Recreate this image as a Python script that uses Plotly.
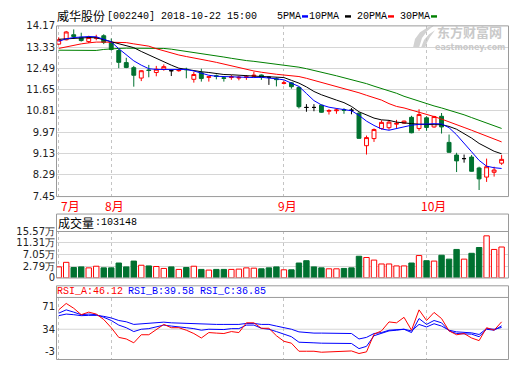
import plotly.graph_objects as go

W, H = 520, 365

stock_name = "威华股份"
stock_code = "002240"
timestamp = "2018-10-22 15:00"

dates = [
    "2018-07-23", "2018-07-24", "2018-07-25", "2018-07-26", "2018-07-27", "2018-07-30", "2018-07-31",
    "2018-08-01", "2018-08-02", "2018-08-03", "2018-08-06", "2018-08-07", "2018-08-08", "2018-08-09",
    "2018-08-10", "2018-08-13", "2018-08-14", "2018-08-15", "2018-08-16", "2018-08-17", "2018-08-20",
    "2018-08-21", "2018-08-22", "2018-08-23", "2018-08-24", "2018-08-27", "2018-08-28", "2018-08-29",
    "2018-08-30", "2018-08-31",
    "2018-09-03", "2018-09-04", "2018-09-05", "2018-09-06", "2018-09-07", "2018-09-10", "2018-09-11",
    "2018-09-12", "2018-09-13", "2018-09-14", "2018-09-17", "2018-09-18", "2018-09-19", "2018-09-20",
    "2018-09-21", "2018-09-25", "2018-09-26", "2018-09-27", "2018-09-28",
    "2018-10-08", "2018-10-09", "2018-10-10", "2018-10-11", "2018-10-12", "2018-10-15", "2018-10-16",
    "2018-10-17", "2018-10-18", "2018-10-19", "2018-10-22",
]

opens = [13.45, 13.62, 13.82, 13.72, 13.55, 13.68, 13.78, 13.52, 13.20, 12.72,
         12.52, 12.11, 12.43, 12.33, 12.46, 12.40, 12.40, 12.46, 12.06, 12.32,
         12.14, 12.20, 12.12, 12.13, 12.11, 12.13, 12.18, 12.23, 12.14, 12.08,
         11.90, 11.92, 11.74, 10.95, 10.95, 11.04, 10.80, 10.82, 10.86, 10.84,
         10.72, 9.44, 9.72, 10.12, 10.15, 10.29, 10.33, 10.56, 10.12, 10.54,
         10.18, 10.60, 9.57, 9.07, 8.93, 8.99, 8.56, 8.20, 8.39, 8.75]
highs = [13.72, 13.97, 14.03, 13.90, 13.78, 13.82, 13.84, 13.67, 13.26, 12.91,
         12.59, 12.42, 12.63, 12.59, 12.65, 12.43, 12.48, 12.52, 12.36, 12.48,
         12.17, 12.25, 12.19, 12.23, 12.19, 12.23, 12.36, 12.25, 12.17, 12.13,
         12.00, 11.95, 11.78, 11.08, 11.08, 11.06, 10.88, 10.92, 10.92, 10.93,
         10.76, 9.84, 10.12, 10.44, 10.45, 10.46, 10.43, 10.62, 10.88, 10.60,
         10.62, 10.73, 9.88, 9.16, 9.09, 9.07, 8.61, 8.93, 8.61, 9.07]
lows = [13.42, 13.60, 13.67, 13.55, 13.49, 13.60, 13.45, 13.20, 12.50, 12.50,
        11.77, 11.99, 12.14, 12.18, 12.40, 12.19, 12.36, 12.10, 11.93, 11.97,
        11.97, 12.06, 11.97, 12.04, 12.02, 12.04, 12.15, 12.04, 11.84, 11.78,
        11.86, 11.69, 10.91, 10.78, 10.80, 10.74, 10.67, 10.70, 10.70, 10.68,
        9.72, 9.09, 9.59, 10.08, 10.07, 10.14, 10.30, 9.93, 10.03, 10.03,
        10.15, 9.92, 9.16, 8.40, 8.77, 8.42, 7.69, 8.01, 8.22, 8.68]
closes = [13.62, 13.93, 13.75, 13.59, 13.71, 13.70, 13.52, 13.24, 12.73, 12.53,
          12.22, 12.40, 12.41, 12.46, 12.56, 12.40, 12.42, 12.44, 12.25, 12.09,
          12.16, 12.18, 12.10, 12.16, 12.14, 12.16, 12.22, 12.14, 12.14, 12.05,
          11.92, 11.77, 10.98, 10.95, 10.95, 10.76, 10.83, 10.85, 10.84, 10.84,
          9.73, 9.76, 10.08, 10.36, 10.37, 10.32, 10.41, 9.95, 10.67, 10.16,
          10.59, 10.18, 9.18, 8.84, 8.93, 8.43, 8.13, 8.61, 8.48, 8.90]

# volume in 万手
volumes = [3.67, 5.19, 3.47, 3.67, 3.34, 3.89, 3.34, 3.34, 4.96, 3.67,
           5.61, 4.22, 3.99, 3.80, 3.15, 3.67, 2.82, 3.47, 3.89, 2.82,
           2.60, 2.82, 2.82, 2.82, 2.92, 3.34, 3.24, 3.02, 3.34, 3.67,
           2.69, 2.69, 4.96, 5.74, 3.67, 3.34, 3.02, 3.02, 3.15, 3.34,
           7.23, 6.81, 5.94, 4.64, 4.64, 3.99, 3.99, 4.96, 7.46, 5.74,
           5.61, 7.56, 6.26, 9.50, 6.26, 8.21, 10.15, 14.05, 9.50, 10.3148]

ma5 = [13.56, 13.66, 13.71, 13.74, 13.75, 13.74, 13.65, 13.54, 13.27, 13.02,
       12.79, 12.62, 12.48, 12.45, 12.45, 12.47, 12.47, 12.45, 12.39, 12.29,
       12.22, 12.18, 12.17, 12.15, 12.13, 12.13, 12.13, 12.14, 12.12, 12.08,
       12.04, 11.91, 11.78, 11.50, 11.22, 11.05, 10.96, 10.91, 10.87, 10.82,
       10.64, 10.41, 10.24, 10.10, 10.05, 10.12, 10.20, 10.25, 10.28, 10.30,
       10.31, 10.30, 10.15, 9.87, 9.55, 9.20, 8.86, 8.63, 8.57, 8.54]
ma10 = [13.64, 13.66, 13.69, 13.70, 13.71, 13.70, 13.62, 13.56, 13.48, 13.39,
        13.31, 13.16, 13.02, 12.87, 12.75, 12.62, 12.50, 12.45, 12.41, 12.36,
        12.33, 12.29, 12.25, 12.24, 12.22, 12.19, 12.18, 12.17, 12.16, 12.14,
        12.13, 12.02, 11.91, 11.76, 11.58, 11.45, 11.33, 11.24, 11.14, 10.99,
        10.78, 10.64, 10.53, 10.46, 10.44, 10.37, 10.33, 10.31, 10.29, 10.27,
        10.27, 10.27, 10.20, 10.09, 9.93, 9.74, 9.53, 9.36, 9.22, 9.12]
ma20 = [13.28, 13.35, 13.41, 13.46, 13.50, 13.53, 13.53, 13.52, 13.52, 13.51,
        13.46, 13.41, 13.37, 13.27, 13.18, 13.08, 13.02, 12.96, 12.91, 12.85,
        12.79, 12.73, 12.66, 12.58, 12.50, 12.43, 12.39, 12.34, 12.29, 12.26,
        12.23, 12.20, 12.17, 12.10, 12.02, 11.95, 11.85, 11.77, 11.70, 11.62,
        11.53, 11.43, 11.33, 11.24, 11.10, 10.99, 10.93, 10.85, 10.78, 10.70,
        10.59, 10.49, 10.37, 10.27, 10.16, 10.05, 9.93, 9.82, 9.70, 9.59]
ma30 = [13.21, 13.21, 13.20, 13.20, 13.19, 13.20, 13.24, 13.27, 13.28, 13.29,
        13.29, 13.29, 13.29, 13.28, 13.28, 13.25, 13.21, 13.16, 13.12, 13.08,
        13.04, 12.99, 12.94, 12.89, 12.84, 12.80, 12.77, 12.73, 12.70, 12.66,
        12.64, 12.60, 12.54, 12.48, 12.42, 12.35, 12.27, 12.20, 12.12, 12.04,
        11.99, 11.89, 11.79, 11.70, 11.60, 11.51, 11.39, 11.29, 11.19, 11.10,
        11.01, 10.93, 10.85, 10.76, 10.66, 10.55, 10.44, 10.34, 10.22, 10.12]

rsi_a = [65.7, 76.2, 68.3, 57.8, 62.0, 58.8, 49.9, 36.5, 20.7, 18.1,
         11.8, 25.0, 25.0, 34.0, 41.9, 36.5, 36.5, 32.4, 27.0, 19.7,
         28.6, 27.7, 27.0, 30.2, 28.6, 44.5, 44.5, 35.6, 35.6, 23.4,
         14.3, 11.2, -2.0, -2.0, -2.0, -3.6, -3.0, -1.5, -1.5, -1.5,
         -5.7, -3.0, 26.0, 31.3, 46.0, 44.5, 53.5, 32.4, 65.7, 48.3,
         61.5, 51.5, 31.3, 25.0, 27.0, 19.7, 15.4, 36.5, 32.4, 46.12]
rsi_b = [60.3, 65.7, 62.0, 57.8, 58.8, 57.8, 53.5, 48.3, 40.8, 36.5,
         30.2, 34.0, 35.0, 38.3, 40.8, 39.2, 38.3, 36.5, 35.0, 32.4,
         34.0, 34.0, 33.5, 35.0, 35.0, 40.8, 40.8, 35.6, 34.0, 30.2,
         26.0, 21.8, 12.8, 11.8, 11.8, 11.2, 11.2, 11.2, 11.2, 10.7,
         2.3, 6.0, 23.4, 27.0, 31.3, 32.4, 34.0, 28.6, 51.5, 41.9,
         48.3, 44.5, 31.3, 27.0, 26.0, 26.0, 21.8, 34.0, 32.4, 39.58]
rsi_c = [56.2, 58.8, 57.8, 56.2, 56.7, 56.7, 55.1, 52.5, 48.3, 46.2,
         41.9, 43.0, 43.0, 44.5, 45.6, 44.5, 44.0, 43.5, 43.0, 41.9,
         41.9, 41.9, 41.9, 41.9, 41.9, 43.5, 43.5, 41.9, 41.9, 39.2,
         36.5, 34.0, 29.7, 28.6, 27.7, 27.7, 27.7, 27.7, 27.7, 27.0,
         18.1, 20.7, 27.0, 28.6, 32.4, 33.5, 34.0, 31.3, 41.9, 37.7,
         43.0, 39.2, 32.4, 29.7, 28.6, 28.1, 25.4, 35.0, 34.0, 36.85]

price_ticks = [14.17, 13.33, 12.49, 11.65, 10.81, 9.97, 9.13, 8.29, 7.45]
volume_tick_labels = ["15.57万", "11.31万", "7.05万", "2.79万", "0"]
volume_max = 15.57
rsi_ticks = [71, 34, -3]
ma_names = ["5PMA", "10PMA", "20PMA", "30PMA"]

RED = "#ff0000"
GREEN = "#007130"
BLUE = "#0000ff"
MA_COLORS = ["#0000ff", "#000000", "#ff0000", "#008000"]
FRAME = "#9a9a9a"
GRID = "#d6d6d6"
MONO = "Liberation Mono, DejaVu Sans Mono, monospace"
CJK = "Noto Sans CJK SC"
TICKF = "DejaVu Sans"

n = len(dates)
xs = list(range(n))


def fx(p):
    return p / W


def fy(p):
    return 1 - p / H


direction = []
for i in range(n):
    if closes[i] > opens[i]:
        direction.append("up")
    elif closes[i] < opens[i]:
        direction.append("down")
    else:
        direction.append("flat")

fig = go.Figure()

styles = {"up": (RED, "#ffffff"), "down": (GREEN, GREEN), "flat": ("#000000", "#000000")}
for kind, (lc, fc) in styles.items():
    idx = [i for i in range(n) if direction[i] == kind]
    fig.add_trace(go.Candlestick(
        x=[xs[i] for i in idx],
        open=[opens[i] for i in idx], high=[highs[i] for i in idx],
        low=[lows[i] for i in idx], close=[closes[i] for i in idx],
        increasing=dict(line=dict(color=lc, width=1), fillcolor=fc),
        decreasing=dict(line=dict(color=lc, width=1), fillcolor=fc),
        whiskerwidth=0, xaxis="x", yaxis="y", hoverinfo="skip",
    ))

for vals, col in zip([ma30, ma20, ma10, ma5], MA_COLORS[::-1]):
    fig.add_trace(go.Scatter(x=xs, y=vals, mode="lines", line=dict(color=col, width=1),
                             xaxis="x", yaxis="y", hoverinfo="skip"))

vol_line, vol_fill = [], []
for i in range(n):
    if direction[i] == "up" or (direction[i] == "flat" and i > 0 and closes[i] > closes[i - 1]):
        vol_line.append(RED)
        vol_fill.append("#ffffff")
    else:
        vol_line.append(GREEN)
        vol_fill.append(GREEN)

fig.add_trace(go.Bar(x=xs, y=volumes, width=0.72,
                     marker=dict(color=vol_fill, line=dict(color=vol_line, width=1)),
                     xaxis="x2", yaxis="y2", hoverinfo="skip"))

for vals, col in [(rsi_c, BLUE), (rsi_b, BLUE), (rsi_a, RED)]:
    fig.add_trace(go.Scatter(x=xs, y=vals, mode="lines", line=dict(color=col, width=1),
                             xaxis="x3", yaxis="y3", hoverinfo="skip"))

month_idx = []
for i, d in enumerate(dates):
    if i == 0 or d[5:7] != dates[i - 1][5:7]:
        month_idx.append(i)

xrange_ = [-0.36, n - 0.15]
xcommon = dict(range=xrange_, showticklabels=False, ticks="", tickvals=month_idx,
               showgrid=True, gridcolor="#c4c4c4", griddash="3px,3px", gridwidth=1,
               zeroline=False, showline=False, fixedrange=True)
xd = [fx(56), fx(508)]

ycommon = dict(zeroline=False, showline=False, ticks="", fixedrange=True,
               tickfont=dict(family=TICKF, size=10, color="#222222"))

# the volume panel is divided into four equal bands, as in the source chart
vol_grid = [volume_max * k / 4 for k in (4, 3, 2, 1, 0)]

layout = dict(
    width=W, height=H, margin=dict(l=0, r=0, t=0, b=0),
    paper_bgcolor="white", plot_bgcolor="white", showlegend=False, boxgap=0.26,
    xaxis=dict(domain=xd, anchor="y", rangeslider=dict(visible=False), **xcommon),
    xaxis2=dict(domain=xd, anchor="y2", **xcommon),
    xaxis3=dict(domain=xd, anchor="y3", **xcommon),
    yaxis=dict(domain=[fy(196), fy(20.5)], range=[7.45, 14.17], anchor="x",
               tickvals=price_ticks, ticktext=[f"{v:.2f}" for v in price_ticks],
               showgrid=True, gridcolor=GRID, **ycommon),
    yaxis2=dict(domain=[fy(280.3), fy(232.3)], range=[0, volume_max], anchor="x2",
                tickvals=vol_grid, ticktext=volume_tick_labels,
                showgrid=True, gridcolor=GRID, **ycommon),
    yaxis3=dict(domain=[fy(364.3), fy(300.7)], range=[-15.2, 85.7], anchor="x3",
                tickvals=rsi_ticks, ticktext=[str(v) for v in rsi_ticks],
                showgrid=False, **ycommon),
)
fig.update_layout(**layout)

shapes = []


def rect(x0, y0, x1, y1, **kw):
    shapes.append(dict(type="rect", xref="paper", yref="paper", x0=fx(x0), x1=fx(x1),
                       y0=fy(y1), y1=fy(y0), **kw))


def hline(x0, x1, y, color):
    shapes.append(dict(type="line", xref="paper", yref="paper", x0=fx(x0), x1=fx(x1),
                       y0=fy(y), y1=fy(y), line=dict(color=color, width=1), layer="above"))


shapes.append(dict(type="line", xref="x3 domain", yref="y3", x0=0, x1=1, y0=34, y1=34,
                   line=dict(color=GRID, width=1), layer="below"))
rect(56.5, 20.5, 508.5, 196.5, line=dict(color=FRAME, width=1), layer="above")
rect(56.5, 214.5, 508.5, 280.5, line=dict(color=FRAME, width=1), layer="above")
hline(56.5, 508.5, 232.5, FRAME)
rect(56.5, 288.5, 508.5, 364.5, line=dict(color=FRAME, width=1), layer="above")
hline(56.5, 508.5, 300.5, FRAME)

leg_x = [276, 308, 356, 399]
sw_x = [302, 345, 388, 431]
for sx, col in zip(sw_x, MA_COLORS):
    rect(sx, 9.5, sx + 6, 12, fillcolor=col, line=dict(width=0), layer="above")


def path(pts):
    return "M " + " L ".join(f"{fx(a):.5f},{fy(b):.5f}" for a, b in pts) + " Z"


shapes.append(dict(type="path", xref="paper", yref="paper",
                   path=path([(413, 43), (415, 34), (420, 27), (428, 22), (434, 20), (427, 26), (422, 33), (419, 43)]),
                   fillcolor="#d2d2d2", line=dict(width=0), layer="below"))
shapes.append(dict(type="path", xref="paper", yref="paper",
                   path=path([(421, 43), (424, 35), (429, 29), (435, 25), (430, 32), (427, 38), (425, 43)]),
                   fillcolor="#d2d2d2", line=dict(width=0), layer="below"))
fig.update_layout(shapes=shapes)

ann = []


def text(x, y, s, family, size, color="#000000", anchor="left", weight=None):
    f = dict(family=family, size=size, color=color)
    if weight:
        f["weight"] = weight
    ann.append(dict(x=fx(x), y=fy(y), xref="paper", yref="paper", text=s, showarrow=False,
                    xanchor=anchor, yanchor="middle", font=f, borderpad=0))


text(56, 10, stock_name, CJK, 12)
text(106, 10.5, f"[{stock_code}] {timestamp}", MONO, 10)
for lx, name in zip(leg_x, ma_names):
    text(lx, 10.5, name, MONO, 10)

text(436, 26.5, "东方财富网", CJK, 13, "#c9c9c9", weight=700)
text(434, 42.5, "eastmoney.com", "DejaVu Sans", 8, "#c9c9c9", weight=700)

text(57, 223, "成交量", CJK, 12)
text(94, 223.5, f":{round(volumes[-1] * 10000)}", MONO, 10)

text(56, 294.5, f"RSI_A:{rsi_a[-1]:.2f}", MONO, 10, RED)
text(127, 294.5, f"RSI_B:{rsi_b[-1]:.2f}", MONO, 10, BLUE)
text(199, 294.5, f"RSI_C:{rsi_c[-1]:.2f}", MONO, 10, BLUE)

for k, i in enumerate(month_idx):
    ann.append(dict(x=xs[i], y=fy(206), xref="x", yref="paper", text=f"{int(dates[i][5:7])}月",
                    showarrow=False, xanchor="left", yanchor="middle", xshift=1 if k == 0 else -7,
                    font=dict(family=CJK, size=12, color=RED), borderpad=0))

fig.update_layout(annotations=ann)

fig.write_html("out.html", config={"displayModeBar": False, "staticPlot": True},
               post_script="document.body.style.margin='0px';document.body.style.padding='0px';")
